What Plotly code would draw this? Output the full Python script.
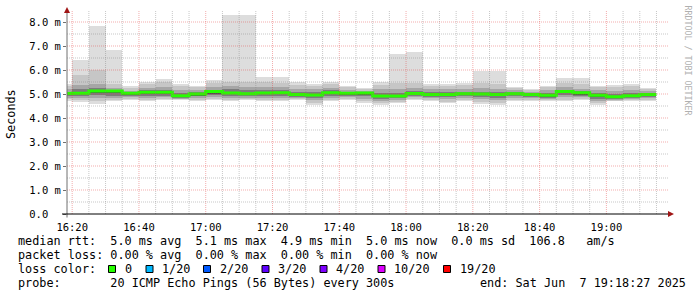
import plotly.graph_objects as go
from datetime import datetime, timedelta

# ---------------- data (values in milliseconds) ----------------
col_start = ["16:15", "16:20", "16:25", "16:30", "16:35", "16:40", "16:45", "16:50", "16:55",
             "17:00", "17:05", "17:10", "17:15", "17:20", "17:25", "17:30", "17:35", "17:40",
             "17:45", "17:50", "17:55", "18:00", "18:05", "18:10", "18:15", "18:20", "18:25",
             "18:30", "18:35", "18:40", "18:45", "18:50", "18:55", "19:00", "19:05", "19:10"]

rtt_max = [5.40, 6.40, 7.82, 6.82, 5.35, 5.48, 5.64, 5.43, 5.35, 5.57, 8.30, 8.30, 5.71, 5.71, 5.48, 5.43, 5.48, 5.35,
           5.25, 5.48, 6.68, 6.73, 5.43, 5.43, 5.45, 5.94, 5.94, 5.29, 5.20, 5.35, 5.67, 5.67, 5.35, 5.39, 5.43, 5.25]
rtt_hi2 = [5.32, 5.80, 6.00, 5.40, 5.26, 5.40, 5.50, 5.33, 5.28, 5.45, 5.48, 5.50, 5.50, 5.45, 5.38, 5.35, 5.40, 5.28,
           5.20, 5.38, 5.45, 5.45, 5.35, 5.35, 5.36, 5.45, 5.40, 5.24, 5.16, 5.28, 5.45, 5.40, 5.28, 5.30, 5.32, 5.20]
rtt_hi3 = [5.20, 5.38, 5.40, 5.26, 5.13, 5.25, 5.30, 5.15, 5.15, 5.28, 5.35, 5.30, 5.30, 5.28, 5.22, 5.20, 5.25, 5.18,
           5.14, 5.20, 5.22, 5.25, 5.20, 5.20, 5.22, 5.25, 5.22, 5.15, 5.10, 5.15, 5.28, 5.22, 5.15, 5.12, 5.15, 5.12]
rtt_hi4 = [5.10, 5.20, 5.25, 5.18, 5.08, 5.15, 5.18, 5.05, 5.08, 5.18, 5.20, 5.15, 5.15, 5.15, 5.10, 5.08, 5.15, 5.10,
           5.09, 5.05, 5.06, 5.12, 5.08, 5.08, 5.10, 5.10, 5.08, 5.08, 5.04, 5.05, 5.18, 5.12, 5.05, 5.00, 5.03, 5.05]
rtt_hi5 = [5.05, 5.08, 5.16, 5.15, 5.05, 5.10, 5.10, 4.97, 5.03, 5.13, 5.08, 5.05, 5.07, 5.08, 5.02, 5.00, 5.08, 5.06,
           5.06, 4.96, 4.96, 5.05, 5.01, 5.01, 5.04, 5.03, 5.01, 5.04, 5.00, 4.98, 5.13, 5.07, 4.98, 4.93, 4.96, 5.00]
rtt_median = [5.02, 5.03, 5.12, 5.12, 5.03, 5.07, 5.07, 4.93, 5.00, 5.10, 5.04, 5.01, 5.04, 5.05, 4.98, 4.96, 5.05, 5.03,
              5.04, 4.92, 4.92, 5.02, 4.98, 4.98, 5.01, 5.00, 4.98, 5.01, 4.98, 4.95, 5.10, 5.05, 4.95, 4.89, 4.93, 4.98]
rtt_lo5 = [4.97, 4.98, 5.05, 5.03, 4.97, 5.00, 5.00, 4.88, 4.95, 5.02, 4.98, 4.96, 4.98, 4.99, 4.93, 4.90, 4.99, 4.98,
           4.98, 4.86, 4.87, 4.97, 4.93, 4.92, 4.96, 4.94, 4.92, 4.96, 4.93, 4.90, 5.03, 4.99, 4.88, 4.84, 4.88, 4.93]
rtt_lo4 = [4.92, 4.92, 4.95, 4.93, 4.92, 4.92, 4.93, 4.84, 4.90, 4.95, 4.93, 4.90, 4.92, 4.92, 4.88, 4.84, 4.92, 4.92,
           4.90, 4.80, 4.82, 4.92, 4.88, 4.86, 4.90, 4.87, 4.85, 4.90, 4.88, 4.85, 4.95, 4.93, 4.80, 4.80, 4.83, 4.88]
rtt_lo3 = [4.85, 4.84, 4.85, 4.84, 4.86, 4.85, 4.86, 4.80, 4.82, 4.88, 4.85, 4.83, 4.85, 4.85, 4.83, 4.75, 4.85, 4.86,
           4.80, 4.72, 4.75, 4.86, 4.82, 4.78, 4.83, 4.78, 4.75, 4.83, 4.82, 4.80, 4.86, 4.86, 4.72, 4.76, 4.78, 4.82]
rtt_lo2 = [4.78, 4.74, 4.72, 4.76, 4.80, 4.75, 4.80, 4.78, 4.75, 4.80, 4.75, 4.79, 4.75, 4.76, 4.79, 4.63, 4.75, 4.80,
           4.70, 4.62, 4.68, 4.80, 4.74, 4.68, 4.75, 4.67, 4.64, 4.75, 4.75, 4.74, 4.76, 4.80, 4.62, 4.72, 4.73, 4.75]
rtt_min = [4.72, 4.65, 4.60, 4.69, 4.76, 4.69, 4.76, 4.76, 4.69, 4.76, 4.69, 4.76, 4.69, 4.69, 4.76, 4.55, 4.69, 4.76,
           4.62, 4.55, 4.62, 4.76, 4.69, 4.62, 4.69, 4.60, 4.55, 4.69, 4.69, 4.69, 4.69, 4.76, 4.55, 4.69, 4.69, 4.69]

y_tickvals = [0, 1, 2, 3, 4, 5, 6, 7, 8]
y_ticktext = ["0.0\u00a0\u00a0", "1.0 m", "2.0 m", "3.0 m", "4.0 m", "5.0 m", "6.0 m", "7.0 m", "8.0 m"]

loss_labels = ["0", "1/20", "2/20", "3/20", "4/20", "10/20", "19/20"]
loss_colors = ["#26ff00", "#00b8ff", "#0059ff", "#5e00ff", "#7e00ff", "#dd00ff", "#ff0000"]

legend_rtt = "median rtt:  5.0 ms avg  5.1 ms max  4.9 ms min  5.0 ms now  0.0 ms sd  106.8   am/s"
legend_loss = "packet loss: 0.00 % avg  0.00 % max  0.00 % min  0.00 % now"
legend_probe = "probe:       20 ICMP Echo Pings (56 Bytes) every 300s"
legend_end = "end: Sat Jun  7 19:18:27 2025"

# ---------------- geometry ----------------
W, H = 697, 297
ML, MR, MT, MB = 67, 29, 11, 83
PW, PH = W - ML - MR, H - MT - MB
PX_PER_MS = 24.0
Y_TOP = PH / PX_PER_MS

def px(x):
    return (x - ML) / PW

def py(y):
    return (H - MB - y) / PH

day = datetime(2025, 6, 7)
def t(s):
    h, m = map(int, s.split(":"))
    return day + timedelta(hours=h, minutes=m)

starts = [t(s) for s in col_start]
step = timedelta(minutes=5)
centers = [s + step / 2 for s in starts]
t_begin = datetime(2025, 6, 7, 16, 18, 27)
t_end = datetime(2025, 6, 7, 19, 18, 27)

fig = go.Figure()

bands = [
    (rtt_min, rtt_max, "#dddddd"),
    (rtt_lo2, rtt_hi2, "#c6c6c6"),
    (rtt_lo3, rtt_hi3, "#a6a6a6"),
    (rtt_lo4, rtt_hi4, "#7c7c7c"),
    (rtt_lo5, rtt_hi5, "#505050"),
]
for lo, hi, col in bands:
    fig.add_trace(go.Bar(
        x=centers, base=lo, y=[h - l for h, l in zip(hi, lo)],
        width=[300000] * len(centers), marker=dict(color=col, line=dict(width=0)),
        hoverinfo="skip", showlegend=False))

fig.add_trace(go.Scatter(
    x=starts + [starts[-1] + step], y=rtt_median + [rtt_median[-1]],
    mode="lines", line=dict(color="#26ff00", width=3, shape="hv"),
    hoverinfo="skip", showlegend=False))

shapes = []
minor_c = "rgba(130,130,130,0.45)"
major_c = "rgba(225,60,60,0.42)"
# vertical grid
g = t("16:20")
i = 0
while g <= t("19:15"):
    shapes.append(dict(type="line", xref="x", yref="paper", x0=g, x1=g, y0=0, y1=1,
                       line=dict(color=major_c if i % 4 == 0 else minor_c, width=1, dash="1px,1px"),
                       layer="above"))
    g += step
    i += 1
# horizontal grid
for k in range(1, 17):
    v = k * 0.5
    shapes.append(dict(type="line", xref="paper", yref="y", x0=0, x1=1, y0=v, y1=v,
                       line=dict(color=major_c if k % 2 == 0 else minor_c, width=1, dash="1px,1px"),
                       layer="above"))
# axes lines
shapes.append(dict(type="line", xref="paper", yref="paper", x0=px(67), x1=px(67), y0=py(217.5), y1=py(12),
                   line=dict(color="#707070", width=1), layer="above"))
shapes.append(dict(type="line", xref="paper", yref="paper", x0=px(62), x1=px(669), y0=py(214), y1=py(214),
                   line=dict(color="#000000", width=1), layer="above"))
# arrows
shapes.append(dict(type="path", xref="paper", yref="paper",
                   path=f"M {px(67)} {py(7)} L {px(70)} {py(13)} L {px(64)} {py(13)} Z",
                   fillcolor="#a01515", line=dict(width=0), layer="above"))
shapes.append(dict(type="path", xref="paper", yref="paper",
                   path=f"M {px(674)} {py(214)} L {px(668)} {py(211)} L {px(668)} {py(217)} Z",
                   fillcolor="#a01515", line=dict(width=0), layer="above"))

FONT = "DejaVu Sans Mono"
FS = 11.8
nb = lambda s: s.replace(" ", "\u00a0")
ann = []
def text(x, y, s, anchor="left", size=FS, color="#000000", angle=0):
    ann.append(dict(xref="paper", yref="paper", x=px(x), y=py(y), text=nb(s), showarrow=False,
                    xanchor=anchor, yanchor="middle", textangle=angle,
                    font=dict(family=FONT, size=size, color=color)))

text(16, 241, legend_rtt)
text(16, 255, legend_loss)
text(16, 269, "loss color:")
text(16, 283, legend_probe)
text(478, 283, legend_end)
text(11, 114, "Seconds", anchor="center", angle=-90)
text(687.5, 60, "RRDTOOL / TOBI OETIKER", anchor="center", size=8.3, color="#b0b0b0", angle=90)

sq_x = [108.5, 146, 203.5, 262, 320, 378, 443.5]
lab_x = [122.5, 160, 217.5, 276, 334, 392, 457.5]
for sx, lx, lab, colr in zip(sq_x, lab_x, loss_labels, loss_colors):
    shapes.append(dict(type="rect", xref="paper", yref="paper", x0=px(sx), x1=px(sx + 7), y0=py(265.5), y1=py(272.5),
                       fillcolor=colr, line=dict(color="#000000", width=1)))
    text(lx, 269, lab)

fig.update_layout(
    width=W, height=H, margin=dict(l=ML, r=MR, t=MT, b=MB),
    paper_bgcolor="#ffffff", plot_bgcolor="#ffffff",
    barmode="overlay", bargap=0, showlegend=False,
    shapes=shapes, annotations=ann,
    xaxis=dict(type="date", range=[t_begin, t_end], showgrid=False, zeroline=False, showline=False,
               tickmode="linear", tick0=t("16:20"), dtick=1200000, tickformat="%H:%M",
               ticks="outside", ticklen=3, tickcolor="rgba(0,0,0,0)",
               tickfont=dict(family=FONT, size=10.5, color="#000000")),
    yaxis=dict(range=[0, Y_TOP], showgrid=False, zeroline=False, showline=False,
               tickmode="array", tickvals=y_tickvals, ticktext=y_ticktext,
               ticks="outside", ticklen=3, tickcolor="#707070",
               tickfont=dict(family=FONT, size=10.5, color="#000000")),
)

fig.write_html("out.html")
